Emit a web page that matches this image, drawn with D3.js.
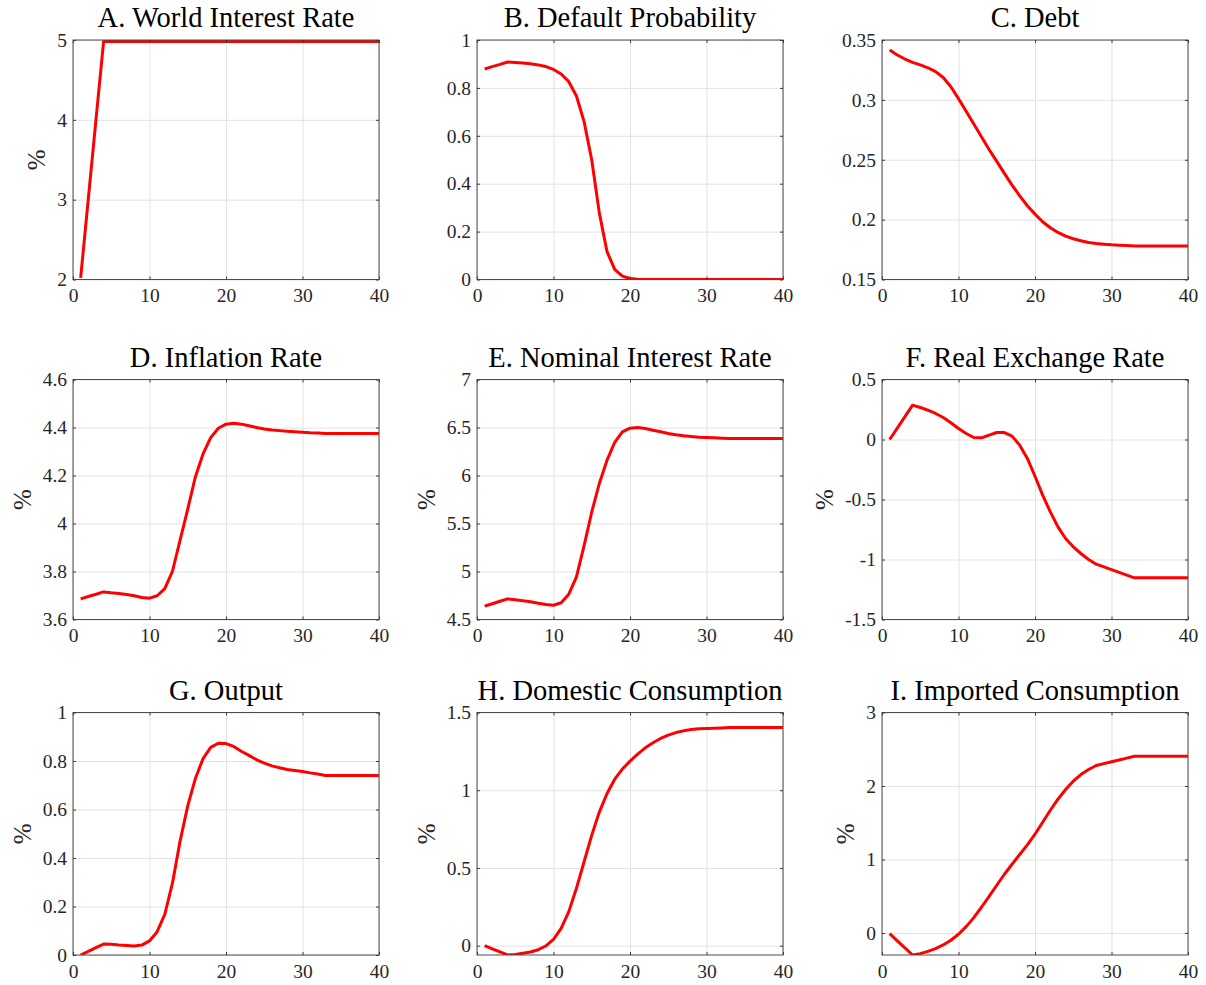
<!DOCTYPE html>
<html>
<head>
<meta charset="utf-8">
<script src="https://cdn.jsdelivr.net/npm/d3@7"></script>
<style>
  html, body { margin: 0; padding: 0; background: #fff; }
  svg { display: block; background: #fff; }
  text { font-family: "Liberation Serif", "Times New Roman", serif; }
  .grid line { stroke: #e2e2e2; stroke-width: 1; }
  .grid .domain { display: none; }
  .frame .domain { display: none; }
  .frame line { stroke: #3a3a3a; stroke-width: 1; }
  .panel-title { font-size: 28.5px; fill: #000; text-anchor: middle; }
  .y-label { font-size: 25px; fill: #262626; text-anchor: middle; }
</style>
</head>
<body>
<svg id="chart" width="1206" height="985"></svg>
<script>
// Quarters after the shock
const quarters = [1, 2, 3, 4, 5, 6, 7, 8, 9, 10, 11, 12, 13, 14, 15, 16, 17, 18, 19, 20,
                  21, 22, 23, 24, 25, 26, 27, 28, 29, 30, 31, 32, 33, 34, 35, 36, 37, 38, 39, 40];
const xTicks = [0, 10, 20, 30, 40];

const titles = [
  "A. World Interest Rate", "B. Default Probability", "C. Debt",
  "D. Inflation Rate", "E. Nominal Interest Rate", "F. Real Exchange Rate",
  "G. Output", "H. Domestic Consumption", "I. Imported Consumption"
];

// Impulse responses, one value per quarter
const worldRate = [2.02, 3.01, 4.0, 4.98, 4.98, 4.98, 4.98, 4.98, 4.98, 4.98,
  4.98, 4.98, 4.98, 4.98, 4.98, 4.98, 4.98, 4.98, 4.98, 4.98,
  4.98, 4.98, 4.98, 4.98, 4.98, 4.98, 4.98, 4.98, 4.98, 4.98,
  4.98, 4.98, 4.98, 4.98, 4.98, 4.98, 4.98, 4.98, 4.98, 4.98];
const defaultProb = [0.879, 0.889, 0.898, 0.908, 0.906, 0.904, 0.901, 0.896, 0.889, 0.877,
  0.858, 0.826, 0.766, 0.659, 0.499, 0.276, 0.116, 0.042, 0.014, 0.004,
  0.001, 0, 0, 0, 0, 0, 0, 0, 0, 0,
  0, 0, 0, 0, 0, 0, 0, 0, 0, 0];
const debt = [0.3416, 0.3375, 0.3341, 0.3313, 0.3292, 0.3268, 0.3236, 0.3187, 0.3110, 0.3010,
  0.2905, 0.2798, 0.2692, 0.2586, 0.2486, 0.2386, 0.2288, 0.2199, 0.2116, 0.2046,
  0.1982, 0.1932, 0.1893, 0.1862, 0.1840, 0.1823, 0.1809, 0.1801, 0.1795, 0.1790,
  0.1787, 0.1783, 0.1780, 0.1780, 0.1780, 0.1780, 0.1780, 0.1780, 0.1780, 0.1780];
const inflation = [3.686, 3.696, 3.705, 3.715, 3.711, 3.708, 3.704, 3.699, 3.692, 3.689,
  3.699, 3.729, 3.801, 3.931, 4.060, 4.195, 4.290, 4.358, 4.397, 4.414,
  4.418, 4.414, 4.407, 4.400, 4.394, 4.390, 4.387, 4.384, 4.382, 4.380,
  4.378, 4.377, 4.375, 4.375, 4.375, 4.375, 4.375, 4.375, 4.375, 4.375];
const nominalRate = [4.639, 4.664, 4.690, 4.715, 4.705, 4.695, 4.684, 4.670, 4.656, 4.649,
  4.674, 4.764, 4.944, 5.270, 5.620, 5.920, 6.160, 6.345, 6.455, 6.493,
  6.500, 6.490, 6.472, 6.455, 6.438, 6.424, 6.413, 6.406, 6.399, 6.396,
  6.392, 6.389, 6.385, 6.385, 6.385, 6.385, 6.385, 6.385, 6.385, 6.385];
const realExchange = [0.0, 0.095, 0.19, 0.286, 0.267, 0.244, 0.217, 0.183, 0.139, 0.092,
  0.050, 0.017, 0.014, 0.036, 0.058, 0.058, 0.028, -0.047, -0.158, -0.306,
  -0.464, -0.603, -0.728, -0.825, -0.894, -0.950, -1.000, -1.039, -1.062, -1.085,
  -1.108, -1.130, -1.153, -1.153, -1.153, -1.153, -1.153, -1.153, -1.153, -1.153];
const output = [0.0, 0.015, 0.030, 0.045, 0.044, 0.041, 0.039, 0.037, 0.041, 0.058,
  0.096, 0.168, 0.296, 0.470, 0.615, 0.728, 0.810, 0.856, 0.873, 0.872,
  0.860, 0.840, 0.823, 0.805, 0.791, 0.780, 0.772, 0.765, 0.761, 0.757,
  0.751, 0.746, 0.740, 0.740, 0.740, 0.740, 0.740, 0.740, 0.740, 0.740];
const domesticCons = [0.0, -0.02, -0.04, -0.06, -0.056, -0.049, -0.041, -0.026, -0.002, 0.041,
  0.111, 0.219, 0.369, 0.540, 0.711, 0.861, 0.979, 1.071, 1.136, 1.187,
  1.232, 1.273, 1.305, 1.333, 1.354, 1.371, 1.382, 1.391, 1.395, 1.397,
  1.399, 1.401, 1.403, 1.403, 1.403, 1.403, 1.403, 1.403, 1.403, 1.403];
const importedCons = [-0.01, -0.107, -0.203, -0.30, -0.281, -0.250, -0.213, -0.163, -0.100, -0.018,
  0.086, 0.209, 0.350, 0.499, 0.649, 0.799, 0.935, 1.067, 1.198, 1.344,
  1.507, 1.670, 1.820, 1.952, 2.065, 2.156, 2.224, 2.279, 2.304, 2.329,
  2.354, 2.379, 2.405, 2.405, 2.405, 2.405, 2.405, 2.405, 2.405, 2.405];

const seriesList = [worldRate, defaultProb, debt, inflation, nominalRate,
                    realExchange, output, domesticCons, importedCons];

// Vertical axis limits and tick values per panel
const yDomains = [[2, 5], [0, 1], [0.15, 0.35], [3.6, 4.6], [4.5, 7],
                  [-1.5, 0.5], [0, 1], [-0.06, 1.5], [-0.3, 3]];
const yTickList = [
  [2, 3, 4, 5],
  [0, 0.2, 0.4, 0.6, 0.8, 1],
  [0.15, 0.2, 0.25, 0.3, 0.35],
  [3.6, 3.8, 4, 4.2, 4.4, 4.6],
  [4.5, 5, 5.5, 6, 6.5, 7],
  [-1.5, -1, -0.5, 0, 0.5],
  [0, 0.2, 0.4, 0.6, 0.8, 1],
  [0, 0.5, 1, 1.5],
  [0, 1, 2, 3]
];
const hasPercentLabel = [true, false, false, true, true, true, true, true, true];

const panels = titles.map((title, i) => ({
  title,
  values: seriesList[i],
  domain: yDomains[i],
  ticks: yTickList[i],
  percent: hasPercentLabel[i]
}));

// Grid layout of the 3x3 panels
const colLeft = [73, 477, 882];
const rowTop = [40, 379.5, 712.5];
const rowHeight = [239.5, 240, 242.5];
const plotWidth = 306;
const serif = '"Liberation Serif", "Times New Roman", serif';

const svg = d3.select("#chart");
const defs = svg.append("defs");

function styleTickLabels(axisG) {
  axisG.attr("font-family", serif).attr("font-size", null);
  axisG.selectAll(".tick text")
    .style("font-family", serif)
    .style("font-size", "19.5px")
    .style("fill", "#262626");
}

panels.forEach((p, i) => {
  const c = i % 3, r = Math.floor(i / 3);
  const w = plotWidth, h = rowHeight[r];
  const g = svg.append("g").attr("transform", `translate(${colLeft[c]},${rowTop[r]})`);

  const x = d3.scaleLinear().domain([0, 40]).range([0, w]);
  const y = d3.scaleLinear().domain(p.domain).range([h, 0]);

  // grid lines
  g.append("g").attr("class", "grid")
    .attr("transform", `translate(0,${h})`)
    .call(d3.axisBottom(x).tickValues(xTicks).tickSize(-h).tickFormat(""));
  g.append("g").attr("class", "grid")
    .call(d3.axisLeft(y).tickValues(p.ticks).tickSize(-w).tickFormat(""));

  // response line, clipped to the plot area
  defs.append("clipPath").attr("id", `clip${i}`)
    .append("rect").attr("x", 0).attr("y", 0).attr("width", w).attr("height", h);

  const line = d3.line().x(d => x(d[0])).y(d => y(d[1]));
  g.append("path")
    .datum(quarters.map((q, k) => [q, p.values[k]]))
    .attr("clip-path", `url(#clip${i})`)
    .attr("d", line)
    .attr("fill", "none")
    .attr("stroke", "#ff0000")
    .attr("stroke-width", 3)
    .attr("stroke-linejoin", "round")
    .attr("stroke-linecap", "butt");

  // frame
  g.append("rect")
    .attr("x", 0).attr("y", 0).attr("width", w).attr("height", h)
    .attr("fill", "none").attr("stroke", "#4d4d4d").attr("stroke-width", 1);

  // axes with inward ticks on all four sides
  const xAxisG = g.append("g").attr("class", "frame")
    .attr("transform", `translate(0,${h})`)
    .call(d3.axisBottom(x).tickValues(xTicks).tickSizeInner(-3).tickSizeOuter(0)
      .tickPadding(9).tickFormat(d3.format("d")));
  styleTickLabels(xAxisG);
  g.append("g").attr("class", "frame")
    .call(d3.axisTop(x).tickValues(xTicks).tickSizeInner(-3).tickSizeOuter(0).tickFormat(""));
  const yAxisG = g.append("g").attr("class", "frame")
    .call(d3.axisLeft(y).tickValues(p.ticks).tickSizeInner(-3).tickSizeOuter(0)
      .tickPadding(6).tickFormat(d => String(d)));
  styleTickLabels(yAxisG);
  g.append("g").attr("class", "frame")
    .attr("transform", `translate(${w},0)`)
    .call(d3.axisRight(y).tickValues(p.ticks).tickSizeInner(-3).tickSizeOuter(0).tickFormat(""));

  // title
  g.append("text").attr("class", "panel-title")
    .attr("x", w / 2).attr("y", -13)
    .text(p.title);

  // percent label to the left of the tick labels
  if (p.percent) {
    let minX = 0;
    yAxisG.selectAll(".tick text").each(function () {
      const b = this.getBBox();
      minX = Math.min(minX, b.x);
    });
    const lx = minX - 12;
    g.append("text").attr("class", "y-label")
      .attr("transform", `translate(${lx},${h / 2}) rotate(-90)`)
      .text("%");
  }
});
</script>
</body>
</html>
